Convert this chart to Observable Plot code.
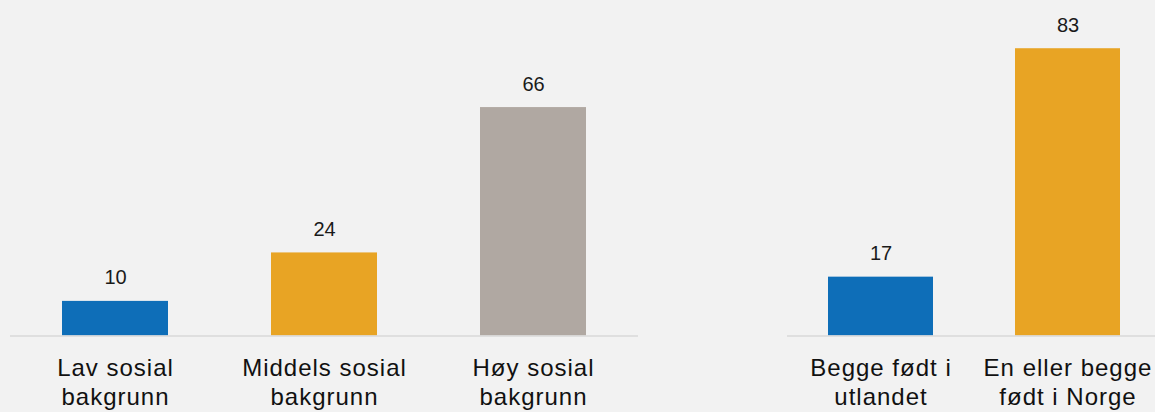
<!DOCTYPE html>
<html>
<head>
<meta charset="utf-8">
<script src="https://cdn.jsdelivr.net/npm/d3@7"></script>
<script src="https://cdn.jsdelivr.net/npm/@observablehq/plot@0.6"></script>
<style>
  html, body { margin: 0; padding: 0; background: #f2f2f2; }
  #wrap { position: relative; width: 1155px; height: 412px; overflow: hidden; background: #f2f2f2; }
  #left, #right { position: absolute; top: 0; }
  #left { left: 0; width: 660px; }
  #right { left: 787px; width: 374px; }
  #wrap svg { overflow: visible; max-width: none !important; height: 412px !important; }
  #wrap svg g[aria-label="x-axis tick label"] text { letter-spacing: 1px; }
</style>
</head>
<body>
<div id="wrap"><div id="left"></div><div id="right"></div></div>
<script>
// Left panel: social background
const socialCategories = ["Lav sosial\nbakgrunn", "Middels sosial\nbakgrunn", "Høy sosial\nbakgrunn"];
const socialValues = [10, 24, 66];
const socialColors = ["#0e6eb8", "#e8a424", "#b0a8a2"];

// Right panel: parents' birthplace
const birthCategories = ["Begge født i\nutlandet", "En eller begge\nfødt i Norge"];
const birthValues = [17, 83];
const birthColors = ["#0e6eb8", "#e8a424"];

const yDomain = [0, 90];

function panel(categories, values, colors, opts) {
  const data = categories.map((c, i) => ({cat: c, value: values[i], color: colors[i]}));
  return Plot.plot({
    width: opts.width,
    height: 412,
    marginLeft: opts.marginLeft,
    marginRight: opts.marginRight,
    marginTop: 24,
    marginBottom: 76.5,
    style: {background: "transparent"},
    x: {domain: categories, paddingInner: opts.pad, paddingOuter: opts.pad / 2, label: null},
    y: {domain: yDomain, axis: null},
    marks: [
      Plot.barY(data, {x: "cat", y: "value", fill: "color"}),
      Plot.ruleY([0], {stroke: "#d9d9d9", strokeWidth: 1.5}),
      Plot.text(data, {
        x: "cat", y: "value", text: d => String(d.value),
        lineAnchor: "bottom", dy: -17,
        fontSize: 20, fontFamily: "Liberation Sans, Arial, sans-serif", fill: "#1a1a1a"
      }),
      Plot.axisX({
        tickSize: 0, tickPadding: 20, fontSize: 24, lineHeight: 1.2,
        fontFamily: "Liberation Sans, Arial, sans-serif", fill: "#111111", label: null
      })
    ]
  });
}

document.getElementById("left").append(
  panel(socialCategories, socialValues, socialColors, {width: 660, marginLeft: 10, marginRight: 22, pad: 0.494})
);
document.getElementById("right").append(
  panel(birthCategories, birthValues, birthColors, {width: 374, marginLeft: 0, marginRight: 0, pad: 0.44})
);
</script>
</body>
</html>
